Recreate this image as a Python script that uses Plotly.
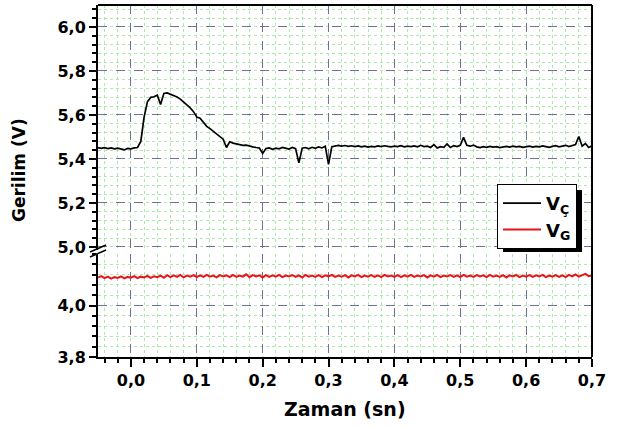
import numpy as np
import plotly.graph_objects as go

# time base (s), uniform sampling
t_start, t_step, n_pts = -0.05, 0.005, 151
time_s = np.round(t_start + t_step * np.arange(n_pts), 4)

v_c = [5.452, 5.448, 5.451, 5.447, 5.450, 5.446, 5.449, 5.445, 5.441, 5.448,
       5.446, 5.450, 5.452, 5.480, 5.590, 5.660, 5.680, 5.683, 5.690, 5.648,
       5.698, 5.700, 5.695, 5.690, 5.682, 5.672, 5.660, 5.648, 5.632, 5.615,
       5.590, 5.585, 5.565, 5.548, 5.538, 5.525, 5.512, 5.500, 5.490, 5.452,
       5.478, 5.472, 5.468, 5.465, 5.462, 5.463, 5.458, 5.455, 5.452, 5.450,
       5.425, 5.447, 5.450, 5.444, 5.449, 5.446, 5.452, 5.448, 5.445, 5.452,
       5.447, 5.382, 5.449, 5.452, 5.446, 5.453, 5.448, 5.455, 5.450, 5.458,
       5.375, 5.456, 5.460, 5.462, 5.458, 5.461, 5.457, 5.460, 5.456, 5.459,
       5.455, 5.458, 5.454, 5.457, 5.455, 5.459, 5.456, 5.460, 5.457, 5.455,
       5.458, 5.456, 5.460, 5.455, 5.458, 5.456, 5.459, 5.455, 5.462, 5.456,
       5.458, 5.452, 5.465, 5.450, 5.456, 5.453, 5.468, 5.452, 5.460, 5.456,
       5.462, 5.498, 5.462, 5.458, 5.463, 5.455, 5.452, 5.456, 5.453, 5.457,
       5.454, 5.456, 5.452, 5.455, 5.457, 5.454, 5.458, 5.455, 5.457, 5.453,
       5.456, 5.458, 5.454, 5.457, 5.455, 5.459, 5.456, 5.453, 5.457, 5.460,
       5.455, 5.458, 5.462, 5.456, 5.460, 5.465, 5.502, 5.458, 5.470, 5.452,
       5.460]

v_g = [4.108, 4.114, 4.106, 4.112, 4.104, 4.110, 4.107, 4.113, 4.105, 4.111,
       4.108, 4.114, 4.106, 4.112, 4.109, 4.115, 4.107, 4.113, 4.110, 4.116,
       4.108,
       4.118, 4.110, 4.117, 4.111, 4.119, 4.109, 4.116, 4.112, 4.118, 4.110,
       4.117, 4.111, 4.119, 4.112, 4.116, 4.109, 4.118, 4.113, 4.117, 4.110,
       4.119, 4.111, 4.116, 4.112, 4.121, 4.110, 4.118, 4.113, 4.117, 4.109,
       4.118, 4.111, 4.117, 4.112, 4.119, 4.110, 4.116, 4.113, 4.118, 4.111,
       4.117, 4.109, 4.119, 4.112, 4.116, 4.111, 4.118, 4.110, 4.117, 4.113,
       4.119, 4.111, 4.116, 4.112, 4.118, 4.109, 4.117, 4.113, 4.119, 4.110,
       4.116, 4.112, 4.118, 4.111, 4.117, 4.110, 4.119, 4.113, 4.116, 4.111,
       4.118, 4.110, 4.117, 4.112, 4.119, 4.111, 4.116, 4.113, 4.118, 4.109,
       4.117, 4.112, 4.119, 4.110, 4.116, 4.113, 4.118, 4.111, 4.117, 4.110,
       4.119, 4.112, 4.116, 4.111, 4.118, 4.113, 4.117, 4.110, 4.119, 4.112,
       4.116, 4.111, 4.118, 4.109, 4.117, 4.113, 4.119, 4.110, 4.116, 4.112,
       4.118, 4.111, 4.117, 4.113, 4.119, 4.110, 4.116, 4.112, 4.118, 4.111,
       4.117, 4.110, 4.119, 4.113, 4.121, 4.112, 4.118, 4.123, 4.114, 4.117]

name_c = "V<sub>Ç</sub>"
name_g = "V<sub>G</sub>"
x_title = "Zaman (sn)"
y_title = "Gerilim (V)"
x_ticks = [0.0, 0.1, 0.2, 0.3, 0.4, 0.5, 0.6, 0.7]
y_top_ticks = [5.0, 5.2, 5.4, 5.6, 5.8, 6.0]
y_bot_ticks = [3.8, 4.0]

W, H = 617, 427
L, R, T, B = 98, 592, 5, 357
pw, ph = R - L, B - T


def px(x):
    return (x - L) / pw


def py(y):
    return (B - y) / ph


FONT = "DejaVu Sans"
MAJ = "#707090"
MIN = "#b0e6b0"

fig = go.Figure()
fig.add_trace(go.Scatter(x=time_s, y=v_c, name=name_c, mode="lines",
                         line=dict(color="black", width=1.7), yaxis="y2"))
fig.add_trace(go.Scatter(x=time_s, y=v_g, name=name_g, mode="lines",
                         line=dict(color="#e8151b", width=2), yaxis="y"))

tickfont = dict(family=FONT, size=16, color="black", weight="bold")
minor_y = dict(ticklen=4, tickwidth=1.5, tickcolor="black", ticks="outside",
               showgrid=True, gridcolor=MIN, griddash="dot", gridwidth=1)
common_y = dict(showline=True, linecolor="black", linewidth=2, ticks="outside",
                ticklen=7, tickwidth=1.5, tickcolor="black", tickfont=tickfont,
                showgrid=True, gridcolor=MAJ, griddash="dash", gridwidth=1,
                zeroline=False, tickformat=".1f")

fig.update_layout(
    width=W, height=H,
    margin=dict(l=L, r=W - R, t=T, b=H - B),
    paper_bgcolor="white", plot_bgcolor="white",
    separators=",.",
    showlegend=True,
    xaxis=dict(range=[-0.05, 0.7], tickmode="array", tickvals=x_ticks,
               tickformat=".1f", showline=True, linecolor="black", linewidth=2,
               ticks="outside", ticklen=8, tickwidth=1.5, tickcolor="black",
               tickfont=tickfont, showgrid=True, gridcolor=MAJ, griddash="dash",
               zeroline=False, anchor="y",
               minor=dict(dtick=0.02, tick0=0, ticklen=4, tickwidth=1.5,
                          tickcolor="black", ticks="outside", showgrid=True,
                          gridcolor=MIN, griddash="dot", gridwidth=1)),
    yaxis=dict(domain=[0, py(254)], range=[3.8, 4.2], tickmode="array",
               tickvals=y_bot_ticks, anchor="x",
               minor=dict(dtick=0.04, tick0=3.8, **minor_y), **common_y),
    yaxis2=dict(domain=[py(250), 1], range=[4.986, 6.1], tickmode="array",
                tickvals=y_top_ticks, anchor="x",
                minor=dict(dtick=0.04, tick0=5.0, **minor_y), **common_y),
    legend=dict(x=px(497), y=py(184), xanchor="left", yanchor="top",
                bgcolor="white", bordercolor="black", borderwidth=1,
                font=dict(family=FONT, size=18, color="black", weight="bold"),
                itemwidth=38, tracegroupgap=0),
)

# frame (top and right)
fig.add_shape(type="line", xref="paper", yref="paper", x0=0, x1=1, y0=1, y1=1,
              line=dict(color="black", width=2))
fig.add_shape(type="line", xref="paper", yref="paper", x0=1, x1=1, y0=0, y1=1,
              line=dict(color="black", width=2))
# axis-break marks
for y0 in (252, 257):
    fig.add_shape(type="line", xref="paper", yref="paper",
                  x0=px(90), x1=px(106), y0=py(y0), y1=py(y0 - 7),
                  line=dict(color="black", width=1.5))
# legend shadow
fig.add_shape(type="rect", xref="paper", yref="paper",
              x0=px(503), x1=px(582), y0=py(252), y1=py(190),
              fillcolor="black", line=dict(width=0), layer="above")

fig.add_annotation(text=x_title, xref="paper", yref="paper", x=0.5, y=py(409),
                   xanchor="center", yanchor="middle", showarrow=False,
                   font=dict(family=FONT, size=19, color="black", weight="bold"))
fig.add_annotation(text=y_title, xref="paper", yref="paper", x=px(19), y=py(170),
                   xanchor="center", yanchor="middle", showarrow=False,
                   textangle=-90,
                   font=dict(family=FONT, size=17, color="black", weight="bold"))

fig.write_html("out.html", config={"displayModeBar": False},
               post_script="document.body.style.margin='0px';")
